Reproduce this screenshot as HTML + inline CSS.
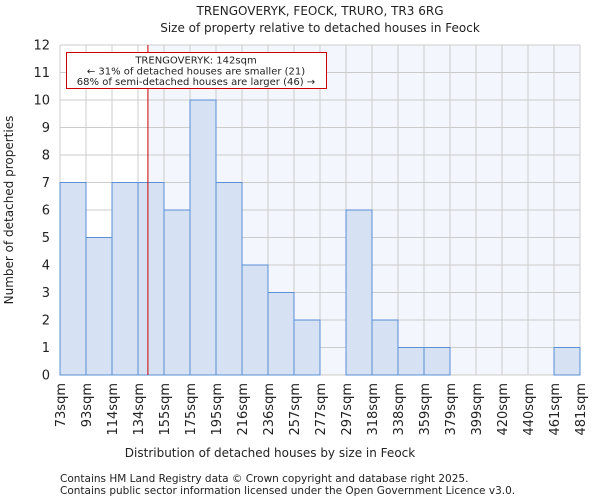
<!DOCTYPE html>
<html><head><meta charset="utf-8"><style>
body{margin:0;background:#fff;font-family:"DejaVu Sans","Liberation Sans",sans-serif;}
svg text{font-family:"DejaVu Sans","Liberation Sans",sans-serif;fill:#222;}
</style></head><body>
<svg id="c" width="600" height="500" xmlns="http://www.w3.org/2000/svg">
<text x="320" y="15" text-anchor="middle" font-size="12">TRENGOVERYK, FEOCK, TRURO, TR3 6RG</text>
<text x="320" y="32" text-anchor="middle" font-size="12">Size of property relative to detached houses in Feock</text>
<g id="plot"></g>
<text x="270" y="457" text-anchor="middle" font-size="12">Distribution of detached houses by size in Feock</text>
<text transform="translate(13,210) rotate(-90)" text-anchor="middle" font-size="12">Number of detached properties</text>
<text x="60" y="482" font-size="10.5">Contains HM Land Registry data © Crown copyright and database right 2025.</text>
<text x="60" y="494" font-size="10.5">Contains public sector information licensed under the Open Government Licence v3.0.</text>
</svg>
<script>
const labels=["73sqm","93sqm","114sqm","134sqm","155sqm","175sqm","195sqm","216sqm","236sqm","257sqm","277sqm","297sqm","318sqm","338sqm","359sqm","379sqm","399sqm","420sqm","440sqm","461sqm","481sqm"];
const edges=[73,93,114,134,155,175,195,216,236,257,277,297,318,338,359,379,399,420,440,461,481];
const counts=[7,5,7,7,6,10,7,4,3,2,0,6,2,1,1,0,0,0,0,1];
const yTicks=[0,1,2,3,4,5,6,7,8,9,10,11,12];
const subject=142;
const L=60,R=580,T=45,B=375,yMax=12;
const NS="http://www.w3.org/2000/svg";
const g=document.getElementById('plot');
const bw=(R-L)/counts.length;
const xi=i=>L+i*bw;
const y=v=>B-(v/yMax)*(B-T);
function xv(v){for(let i=0;i<edges.length-1;i++){if(v<=edges[i+1])return xi(i)+(v-edges[i])/(edges[i+1]-edges[i])*bw;}return R;}
function mk(t,a){const e=document.createElementNS(NS,t);for(const k in a)e.setAttribute(k,a[k]);g.appendChild(e);return e;}
const sx=xv(subject);
let e=mk('rect',{x:sx,y:T,width:R-sx,height:B-T,fill:'#f3f6fd'});


yTicks.forEach(t=>{
 let l=mk('line',{x1:L,x2:R,y1:y(t),y2:y(t),stroke:'#cccccc','stroke-width':1});
 
 
 let tx=mk('text',{x:L-10,y:y(t)+4.5,'text-anchor':'end','font-size':13});
 tx.textContent=t;
 
 
});
labels.forEach((lb,i)=>{
 let l=mk('line',{x1:xi(i),x2:xi(i),y1:T,y2:B,stroke:'#cccccc','stroke-width':1});
 
 
 let tx=mk('text',{transform:`translate(${xi(i)+5},${B+8}) rotate(-90)`,'text-anchor':'end','font-size':13});
 tx.textContent=lb;
 
 
});
counts.forEach((c,i)=>{
 if(c<=0)return;
 let r=mk('rect',{x:xi(i),y:y(c),width:bw,height:B-y(c),fill:'#d6e1f3',stroke:'#5b8fd6','stroke-width':1});
 
 
});
e=mk('line',{x1:sx,x2:sx,y1:T,y2:B,stroke:'#cc0000','stroke-width':1});


e=mk('rect',{x:66.5,y:52.5,width:260,height:36,fill:'#fff',stroke:'#cc0000','stroke-width':1});


["TRENGOVERYK: 142sqm","← 31% of detached houses are smaller (21)","68% of semi-detached houses are larger (46) →"].forEach((s,i)=>{
 let tx=mk('text',{x:196,y:63.5+i*10.8,'text-anchor':'middle','font-size':10});
 tx.textContent=s;
 
 
});
</script>
</body></html>
